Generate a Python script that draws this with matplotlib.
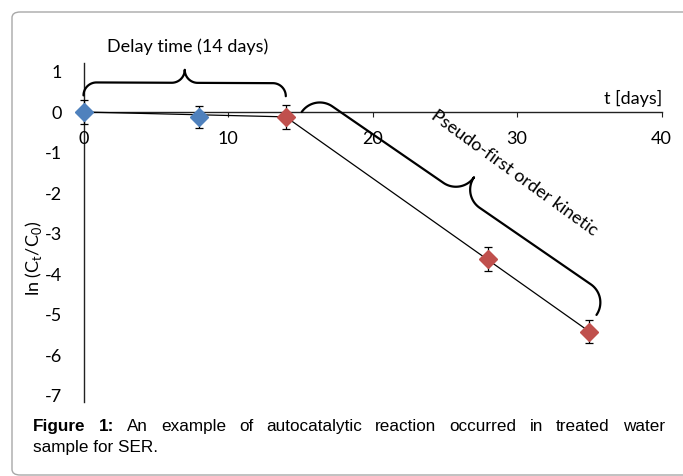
import numpy as np
import matplotlib
matplotlib.use("Agg")
from matplotlib import pyplot as plt
from matplotlib.patches import FancyBboxPatch

# data
blue_t = [0, 8]
blue_ln = [0.0, -0.12]
blue_err = [0.3, 0.28]

red_t = [14, 28, 35]
red_ln = [-0.12, -3.63, -5.42]
red_err = [0.29, 0.29, 0.29]

x_ticks = [0, 10, 20, 30, 40]
y_ticks = [1, 0, -1, -2, -3, -4, -5, -6, -7]

caption_bold = ["Figure", "1:"]
caption_line1 = "An example of autocatalytic reaction occurred in treated water"
caption_line2 = "sample for SER."

W, H = 683, 476
BLUE = "#4F81BD"
RED = "#C0504D"
AXC = "#222222"
FONT = "Lato"
FS = 13

plt.rcParams['font.family'] = [FONT, 'DejaVu Sans']

fig = plt.figure(figsize=(W / 100, H / 100), dpi=100)

# outer rounded frame
frame = FancyBboxPatch((12 / W, 1 - 475 / H), 700 / W, 463 / H,
                       boxstyle="round,pad=0,rounding_size=0.012",
                       transform=fig.transFigure, fc="none", ec="#a8a8a8", lw=1.0)
fig.patches.append(frame)

# axes: x=0 at px 83.5, x=40 at px 661.5 ; y top px 63, bottom px 402 (y=0 at 112)
ax = fig.add_axes([83.5 / W, (H - 402) / H, 578 / W, 339 / H])
ax.set_xlim(0, 40)
ax.set_ylim(-7.16, 1.21)
ax.patch.set_visible(False)

for s in ["top", "right"]:
    ax.spines[s].set_visible(False)
ax.spines["bottom"].set_position(("data", 0))
ax.spines["left"].set_position(("data", 0))
for s in ["bottom", "left"]:
    ax.spines[s].set_color(AXC)
    ax.spines[s].set_linewidth(1.0)
    ax.spines[s].set_zorder(1)

ax.set_xticks(x_ticks)
ax.set_xticklabels([str(v) for v in x_ticks])
ax.set_yticks(y_ticks)
ax.set_yticklabels([str(v) for v in y_ticks])
ax.tick_params(axis="x", direction="out", length=3.5, width=0.8, color=AXC,
               pad=10, labelsize=FS)
ax.tick_params(axis="y", length=0, pad=15.5, labelsize=FS)

# trend lines
ax.plot([blue_t[0], red_t[0]], [blue_ln[0], red_ln[0]], color="k", lw=0.9, zorder=2)
ax.plot([red_t[0], red_t[-1]], [red_ln[0], red_ln[-1]], color="k", lw=0.9, zorder=2)

# points with error bars
ax.errorbar(blue_t, blue_ln, yerr=blue_err, fmt="D", ms=9.5, color=BLUE,
            mec=BLUE, ecolor="k", elinewidth=0.9, capsize=3, capthick=0.9,
            zorder=3, clip_on=False)
ax.errorbar(red_t, red_ln, yerr=red_err, fmt="D", ms=9.5, color=RED,
            mec=RED, ecolor="k", elinewidth=0.9, capsize=3, capthick=0.9,
            zorder=3, clip_on=False)


def brace(ax, p0, p1, depth, lw=1.6):
    s = ax.transData.transform(p0)
    e = ax.transData.transform(p1)
    d = e - s
    L = np.hypot(*d)
    u = d / L
    nrm = np.array([-u[1], u[0]])
    r = depth / 2.0
    th1 = np.linspace(np.pi, np.pi / 2, 30)
    th2 = np.linspace(-np.pi / 2, 0, 30)
    uu = np.concatenate([r + r * np.cos(th1), L / 2 - r + r * np.cos(th2)])
    vv = np.concatenate([r * np.sin(th1), 2 * r + r * np.sin(th2)])
    uu = np.concatenate([uu, (L - uu)[::-1]])
    vv = np.concatenate([vv, vv[::-1]])
    pts = s + uu[:, None] * u + vv[:, None] * nrm
    data = ax.transData.inverted().transform(pts)
    ax.plot(data[:, 0], data[:, 1], color="k", lw=lw, clip_on=False,
            solid_capstyle="round", zorder=4)


brace(ax, (0, 0.41), (14, 0.39), 26)
brace(ax, (15.1, 0.0), (35.5, -5.01), 44)

# text annotations (pixel positions)
def px(x, y):
    return x / W, 1 - y / H


fig.text(*px(187.5, 47), "Delay time (14 days)", ha="center", va="center", fontsize=FS)
fig.text(*px(662, 98), "t [days]", ha="right", va="center", fontsize=FS)
fig.text(*px(514, 173), "Pseudo-first order kinetic", ha="center", va="center",
         rotation=-36, rotation_mode="anchor", fontsize=FS)
fig.text(*px(33, 258), r"ln (C$_{\mathregular{t}}$/C$_{\mathregular{0}}$)",
         ha="center", va="center", rotation=90, fontsize=FS)

# justified caption
CAPF = "Liberation Sans"
CFS = 12.3
renderer = fig.canvas.get_renderer()
words = [(w, "bold") for w in caption_bold] + [(w, "normal") for w in caption_line1.split()]
texts = [fig.text(0, 1 - 431 / H, w, fontweight=wt, family=CAPF, fontsize=CFS,
                  va="baseline", ha="left") for w, wt in words]
widths = [t.get_window_extent(renderer).width for t in texts]
x_left, x_right = 33, 665
gap = (x_right - x_left - sum(widths)) / (len(words) - 1)
x = x_left
for t, w in zip(texts, widths):
    t.set_x(x / W)
    x += w + gap
fig.text(x_left / W, 1 - 452 / H, caption_line2, family=CAPF, fontsize=CFS,
         va="baseline", ha="left")

fig.savefig("out.png", dpi=100)
